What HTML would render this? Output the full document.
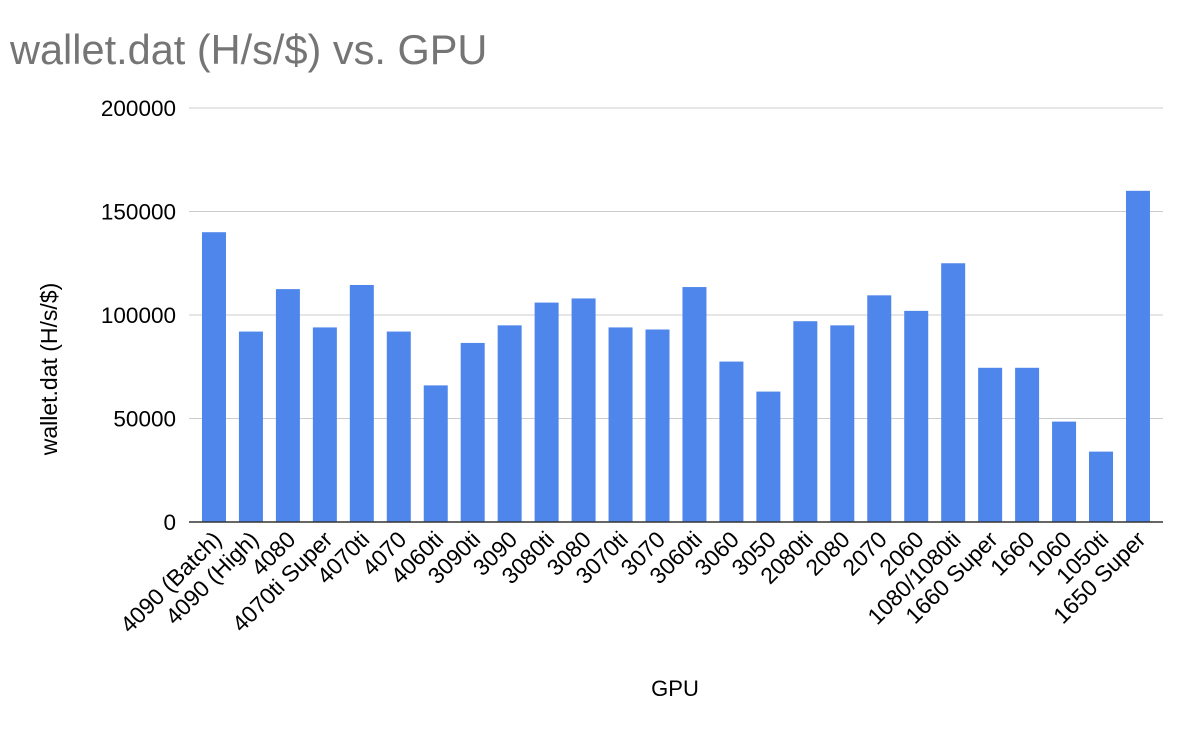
<!DOCTYPE html>
<html><head><meta charset="utf-8"><style>
body{margin:0;background:#fff;}
svg{display:block;font-family:"Liberation Sans",Arial,sans-serif;}
</style></head><body>
<svg id="chart" width="1200" height="736" viewBox="0 0 1200 736">
<rect width="1200" height="736" fill="#fff"/>
<text x="10" y="64" font-size="41.5" fill="#757575">wallet.dat (H/s/$) vs. GPU</text>
<text transform="translate(57,369) rotate(-90)" text-anchor="middle" font-size="23" fill="#000">wallet.dat (H/s/$)</text>
<text x="675" y="696" text-anchor="middle" font-size="22" fill="#000">GPU</text>
<g id="grid"></g><g id="bars"></g><g id="xlabels"></g>
</svg>
<script>
const categories=["4090 (Batch)","4090 (High)","4080","4070ti Super","4070ti","4070","4060ti","3090ti","3090","3080ti","3080","3070ti","3070","3060ti","3060","3050","2080ti","2080","2070","2060","1080/1080ti","1660 Super","1660","1060","1050ti","1650 Super"];
const values=[140000,92000,112500,94000,114500,92000,66000,86500,95000,106000,108000,94000,93000,113500,77500,63000,97000,95000,109500,102000,125000,74500,74500,48500,34000,160000];
const yTicks=[0,50000,100000,150000,200000];
const NS="http://www.w3.org/2000/svg";
const gx0=189,gx1=1163,bx0=195.5,step=36.96,y0=522,y1=108,yMax=200000;
const xs=i=>bx0+step*(i+0.5);
const ys=v=>y0-(v/yMax)*(y0-y1);
function mk(t,a){const e=document.createElementNS(NS,t);for(const k in a)e.setAttribute(k,a[k]);return e;}
const grid=document.getElementById('grid'),bars=document.getElementById('bars'),xl=document.getElementById('xlabels');
yTicks.forEach(v=>{
 const l=mk('line',{x1:gx0,x2:gx1,y1:ys(v),y2:ys(v),stroke:v===0?'#333':'#ccc','stroke-width':v===0?1.5:1});
 
 
 grid.appendChild(l);
 const t=mk('text',{x:176,y:ys(v)+8,'text-anchor':'end','font-size':22.5,fill:'#000'});
 t.textContent=v;
 
 
 grid.appendChild(t);
});
categories.forEach((c,i)=>{
 const w=24,cx=xs(i);
 const r=mk('rect',{x:cx-w/2,y:ys(values[i]),width:w,height:y0-ys(values[i]),fill:'#4f86ec'});
 
 
 bars.appendChild(r);
 const t=mk('text',{transform:`translate(${cx+9},${y0+19}) rotate(-45)`,'text-anchor':'end','font-size':23,fill:'#000'});
 t.textContent=c;
 
 
 xl.appendChild(t);
});
grid.parentNode.appendChild(grid.firstChild);
</script>
</body></html>
